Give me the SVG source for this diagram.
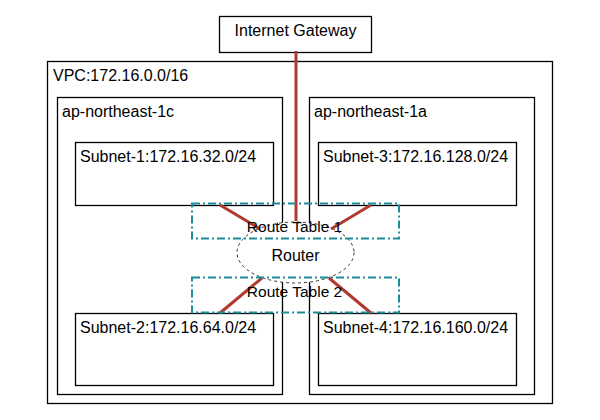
<svg xmlns="http://www.w3.org/2000/svg" width="600" height="420" viewBox="0 0 600 420">
<style>
  .box{fill:none;stroke:#000;stroke-width:1.3}
  .lbl{font-family:"Liberation Sans",Arial,Helvetica,sans-serif;font-size:16px;fill:#000}
  .mid{text-anchor:middle}
  .rt{fill:none;stroke:#1a8c9a;stroke-width:2;stroke-dasharray:8 3 2 3}
  .link{stroke:#b03a2e;stroke-width:3;fill:none}
</style>
<rect width="600" height="420" fill="#fff"/>
<g id="vpc">
  <rect class="box" x="47.5" y="61.5" width="505" height="342"/>
  <text class="lbl" x="53" y="81">VPC:172.16.0.0/16</text>
</g>
<g id="zone-1c">
  <rect class="box" x="57.5" y="97.5" width="225" height="297"/>
  <text class="lbl" x="62" y="117">ap-northeast-1c</text>
</g>
<g id="zone-1a">
  <rect class="box" x="309.5" y="97.5" width="225" height="297"/>
  <text class="lbl" x="314" y="117">ap-northeast-1a</text>
</g>
<g id="subnet-1">
  <rect class="box" x="75.5" y="142.5" width="198" height="63"/>
  <text class="lbl" x="80" y="162">Subnet-1:172.16.32.0/24</text>
</g>
<g id="subnet-3">
  <rect class="box" x="318.5" y="142.5" width="198" height="63"/>
  <text class="lbl" x="323" y="162">Subnet-3:172.16.128.0/24</text>
</g>
<g id="subnet-2">
  <rect class="box" x="75.5" y="313.5" width="198" height="72"/>
  <text class="lbl" x="80" y="333">Subnet-2:172.16.64.0/24</text>
</g>
<g id="subnet-4">
  <rect class="box" x="318.5" y="313.5" width="198" height="72"/>
  <text class="lbl" x="323" y="333">Subnet-4:172.16.160.0/24</text>
</g>
<g id="igw">
  <rect class="box" x="219.5" y="16.5" width="152" height="36"/>
  <text class="lbl mid" x="295.5" y="36">Internet Gateway</text>
</g>
<g id="router">
  <ellipse cx="295.5" cy="252.5" rx="58.5" ry="30.5" fill="#fff" stroke="#000" stroke-width="0.8" stroke-dasharray="3 3"/>
  <text class="lbl mid" x="295.5" y="261">Router</text>
</g>
<g id="connectors">
  <line class="link" x1="296" y1="51" x2="296" y2="221"/>
  <line class="link" x1="220" y1="205" x2="260" y2="229"/>
  <line class="link" x1="371" y1="205" x2="331" y2="229"/>
  <line class="link" x1="220" y1="313" x2="262" y2="278"/>
  <line class="link" x1="371" y1="313" x2="329" y2="278"/>
</g>
<g id="route-table-1">
  <rect class="rt" x="192" y="203.5" width="207" height="35"/>
  <text class="lbl mid" x="294.5" y="232" style="font-size:15.5px">Route Table 1</text>
</g>
<g id="route-table-2">
  <rect class="rt" x="192" y="277.5" width="207" height="35"/>
  <text class="lbl mid" x="294.5" y="297" style="font-size:15.5px">Route Table 2</text>
</g>
</svg>
